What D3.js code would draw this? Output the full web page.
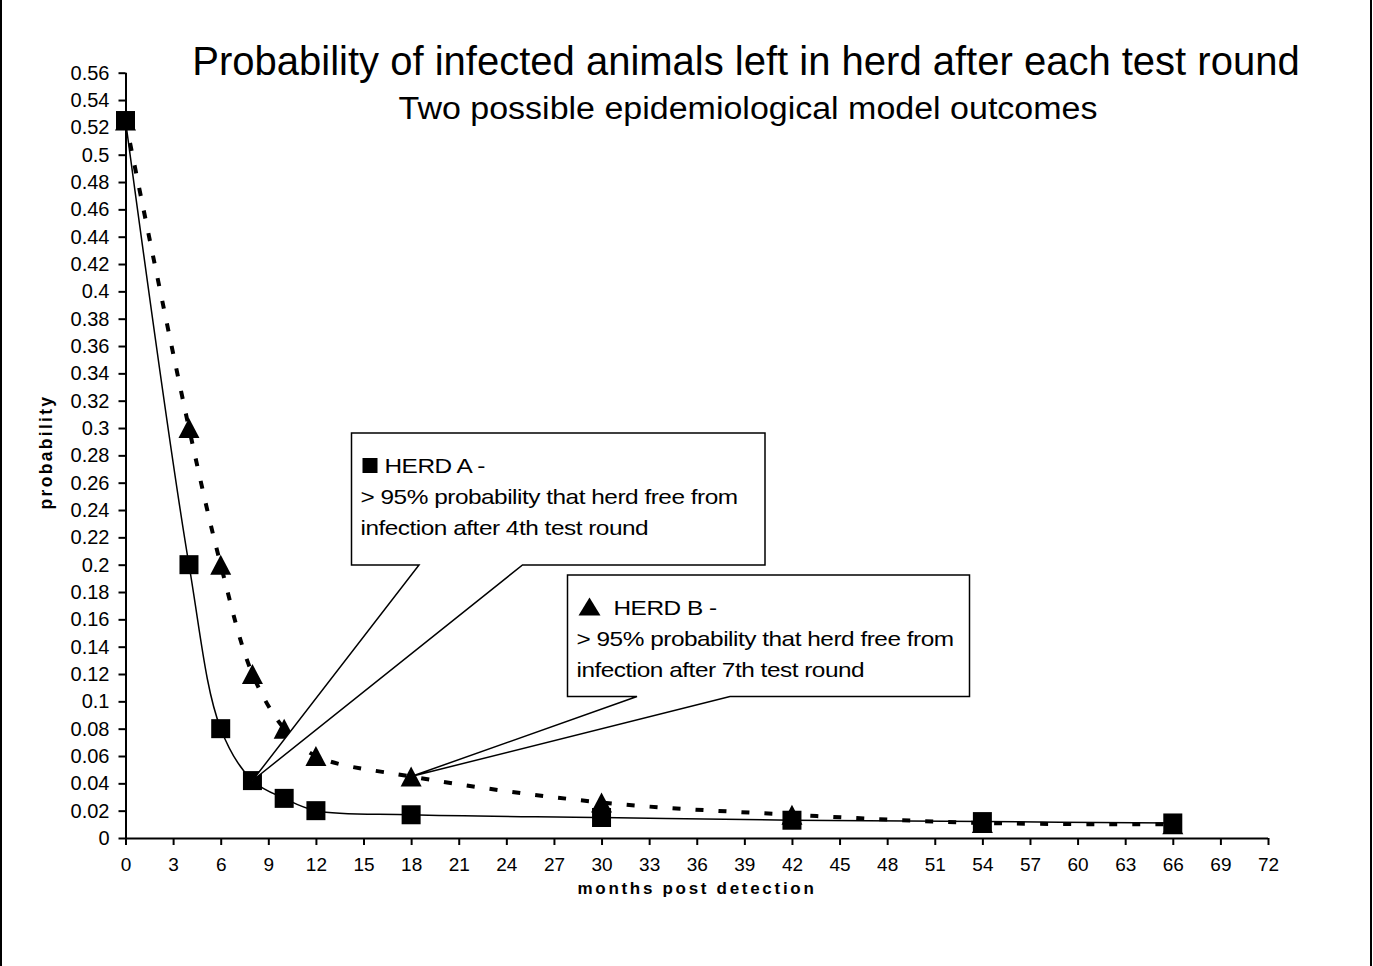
<!DOCTYPE html>
<html>
<head>
<meta charset="utf-8">
<script src="https://cdn.jsdelivr.net/npm/d3@7"></script>
<style>
  html, body { margin: 0; padding: 0; background: #fff; }
  svg { display: block; font-family: "Liberation Sans", Arial, sans-serif; }
</style>
</head>
<body>
<svg id="chart" width="1373" height="966"></svg>
<script>
// Test rounds (months after detection) and probability that infected animals remain
const months = [0, 4, 6, 8, 10, 12, 18, 30, 42, 54, 66];
const herdA = [0.525, 0.2, 0.08, 0.042, 0.029, 0.02, 0.017, 0.015, 0.013, 0.012, 0.011];
const herdB = [0.525, 0.3, 0.2, 0.12, 0.08, 0.06, 0.045, 0.026, 0.017, 0.011, 0.010];

const xTickValues = [0, 3, 6, 9, 12, 15, 18, 21, 24, 27, 30, 33, 36, 39, 42, 45, 48, 51, 54, 57, 60, 63, 66, 69, 72];
const yTickValues = [0, 0.02, 0.04, 0.06, 0.08, 0.1, 0.12, 0.14, 0.16, 0.18, 0.2, 0.22, 0.24, 0.26, 0.28,
  0.3, 0.32, 0.34, 0.36, 0.38, 0.4, 0.42, 0.44, 0.46, 0.48, 0.5, 0.52, 0.54, 0.56];

const titleText = "Probability of infected animals left in herd after each test round";
const subtitleText = "Two possible epidemiological model outcomes";
const xTitle = "months post detection";
const yTitle = "probability";

const calloutA = ["HERD A -", "> 95% probability that herd free from", "infection after 4th test round"];
const calloutB = ["HERD B -", "> 95% probability that herd free from", "infection after 7th test round"];

const svg = d3.select("#chart");

// outer chart frame
svg.append("rect")
  .attr("x", 1).attr("y", -10).attr("width", 1370).attr("height", 990)
  .attr("fill", "none").attr("stroke", "#000").attr("stroke-width", 2);

const x = d3.scaleLinear().domain([0, 72]).range([125.5, 1268]);
const y = d3.scaleLinear().domain([0, 0.56]).range([838, 72.7]);

// titles
svg.append("text").attr("x", 746).attr("y", 75).attr("text-anchor", "middle")
  .attr("font-size", 40).text(titleText);
svg.append("text").attr("x", 748).attr("y", 132).attr("text-anchor", "middle")
  .attr("font-size", 34).attr("transform", "translate(748,0) scale(1,0.9) translate(-748,0)")
  .text(subtitleText);

// axes
const fmt = v => String(+v.toFixed(2));
const yAxis = svg.append("g").attr("transform", `translate(${x(0)},0)`)
  .call(d3.axisLeft(y).tickValues(yTickValues).tickFormat(fmt).tickSize(7).tickPadding(9));
const xAxis = svg.append("g").attr("transform", `translate(0,${y(0)})`)
  .call(d3.axisBottom(x).tickValues(xTickValues).tickFormat(d3.format("d")).tickSize(7).tickPadding(13));

[xAxis, yAxis].forEach(g => {
  g.select(".domain").attr("stroke-width", 2).attr("stroke", "#000");
  g.selectAll(".tick line").attr("stroke-width", 2).attr("stroke", "#000");
  g.selectAll(".tick text").attr("font-size", 20).attr("fill", "#000")
    .attr("font-family", "'Liberation Sans', Arial, sans-serif");
});
xAxis.selectAll(".tick text").attr("font-size", 19);
xAxis.select(".domain").attr("d", `M${x(0)},0.5H${x(72)}`);
yAxis.select(".domain").attr("d", `M0.5,${y(0)}V${y(0.56)}`);

svg.append("text").attr("x", 697).attr("y", 894).attr("text-anchor", "middle")
  .attr("font-size", 17).attr("font-weight", "bold").attr("letter-spacing", 2.7).text(xTitle);
svg.append("text").attr("transform", "translate(52,452) rotate(-90)").attr("text-anchor", "middle")
  .attr("font-size", 17.5).attr("font-weight", "bold").attr("letter-spacing", 2.3).text(yTitle);

// smoothed series lines
const seriesA = months.map((m, i) => [m, herdA[i]]);
const seriesB = months.map((m, i) => [m, herdB[i]]);
const line = d3.line().x(d => x(d[0])).y(d => y(d[1])).curve(d3.curveCatmullRom.alpha(0.5));

svg.append("path").datum(seriesB).attr("d", line)
  .attr("fill", "none").attr("stroke", "#000").attr("stroke-width", 4)
  .attr("stroke-dasharray", "8,15");
svg.append("path").datum(seriesA).attr("d", line)
  .attr("fill", "none").attr("stroke", "#000").attr("stroke-width", 1.5);

// markers: triangles for herd B, squares for herd A on top
const tri = (cx, cy, w, h) => `M${cx},${cy - h / 2}L${cx + w / 2},${cy + h / 2}L${cx - w / 2},${cy + h / 2}Z`;
svg.append("g").selectAll("path").data(seriesB).join("path")
  .attr("d", d => tri(x(d[0]), y(d[1]), 21, 20)).attr("fill", "#000");
svg.append("g").selectAll("rect").data(seriesA).join("rect")
  .attr("x", d => x(d[0]) - 9.5).attr("y", d => y(d[1]) - 9.5)
  .attr("width", 19).attr("height", 19).attr("fill", "#000");

// callout boxes with pointer wedge to a data point
function callout(box, wedge, tip, lines, marker) {
  const [l, t, r, b] = box;
  const pts = [[l, t], [r, t], [r, b], [wedge[1], b], tip, [wedge[0], b], [l, b]];
  svg.append("path").attr("d", "M" + pts.map(p => p.join(",")).join("L") + "Z")
    .attr("fill", "#fff").attr("stroke", "#000").attr("stroke-width", 1.5);
  const tx = l + 11, ty0 = t + 40, lh = 31;
  if (marker === "square") {
    svg.append("rect").attr("x", tx).attr("y", ty0 - 15).attr("width", 15).attr("height", 15).attr("fill", "#000");
  } else {
    svg.append("path").attr("d", tri(tx + 11, ty0 - 8.5, 22, 18)).attr("fill", "#000");
  }
  lines.forEach((s, i) => {
    const sx = i === 0 ? tx + (marker === "square" ? 22 : 35) : tx - 2;
    svg.append("text")
      .attr("transform", `translate(${sx},${ty0 + i * lh}) scale(1.22,1)`)
      .attr("font-size", 20).attr("letter-spacing", -0.4).text(s);
  });
}
callout([351.5, 433, 765, 565], [419, 522.5], [x(months[3]), y(herdA[3])], calloutA, "square");
callout([567.5, 575, 969.5, 696.5], [637, 730], [x(months[6]), y(herdB[6])], calloutB, "triangle");
</script>
</body>
</html>
